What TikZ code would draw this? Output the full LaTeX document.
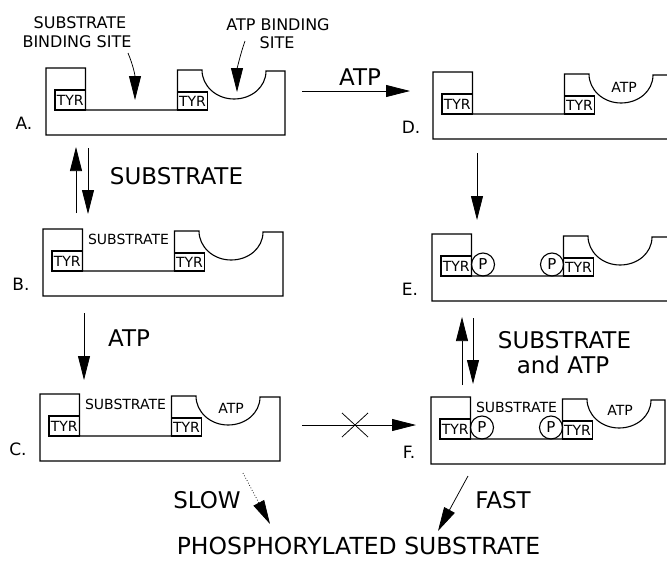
\documentclass[tikz,border=0pt]{standalone}
\usepackage{fontspec}
\setmainfont{DejaVu Sans}
\usetikzlibrary{arrows.meta}
\tikzset{
  blk/.style={line width=1.1pt, line join=miter},
  arr/.style={line width=0.75pt, -{Triangle[length=24pt,width=12pt]}},
  tyr/.style={inner sep=0pt, font=\fontsize{14}{14}\selectfont},
  sm/.style={inner sep=0pt, font=\fontsize{14}{14}\selectfont},
  top/.style={inner sep=0pt, font=\fontsize{16}{16}\selectfont},
  big/.style={inner sep=0pt, font=\fontsize{23}{23}\selectfont},
  prodstyle/.style={inner sep=0pt, font=\fontsize{23.5}{23.5}\selectfont},
  lbl/.style={inner sep=0pt, font=\fontsize{17}{17}\selectfont},
  atpin/.style={inner sep=0pt, font=\fontsize{14}{14}\selectfont},
  pc/.style={draw, circle, line width=1.1pt, minimum size=23pt, inner sep=0pt, font=\fontsize{15}{15}\selectfont},
}
\newcommand\enzblock[4]{%
  \begin{scope}[shift={(#1,#2)}]
    \coordinate (#4) at (0,0);
    \draw[blk] (0,0) -- (39.5,0) -- (39.5,42) -- (131.5,42) -- (131.5,2) -- (156,2)
      .. controls (156,18) and (170.3,31) .. (188,31)
      .. controls (205.7,31) and (220,19) .. (220,3) -- (#3,3) -- (#3,67) -- (0,67) -- cycle;
    \draw[blk] (9,22) rectangle (39.5,42);
    \node[tyr] (#4t1) at (24.25,32.5) {TYR};
    \draw[blk] (131.5,24) rectangle (161.5,42);
    \node[tyr] (#4t2) at (146.5,33.5) {TYR};
    \node[lbl] (#4lab) at (-22,55) {#4.};
  \end{scope}}
\begin{document}
\begin{tikzpicture}[x=1pt,y=-1pt]
\useasboundingbox (0,0) rectangle (667,560);
\clip (0,0) rectangle (667,560);
% blocks
\enzblock{46}{68}{239}{A}
\enzblock{43}{229}{240}{B}
\enzblock{40}{394}{240}{C}
\enzblock{433}{72}{245}{D}
\enzblock{432}{234}{245}{E}
\enzblock{431}{397}{234}{F}
% contents
\node[sm] (Bs) at ([shift={(85.5,10)}]B) {SUBSTRATE};
\node[sm] (Cs) at ([shift={(85.5,10)}]C) {SUBSTRATE};
\node[atpin] (Ca) at ([shift={(191,14)}]C) {ATP};
\node[atpin] (Da) at ([shift={(191,15)}]D) {ATP};
\node[pc] (Ep1) at ([shift={(51,30.5)}]E) {P};
\node[pc] (Ep2) at ([shift={(120,30.5)}]E) {P};
\node[sm] (Fs) at ([shift={(85.5,10)}]F) {SUBSTRATE};
\node[atpin] (Fa) at ([shift={(189,13)}]F) {ATP};
\node[pc] (Fp1) at ([shift={(51,30.5)}]F) {P};
\node[pc] (Fp2) at ([shift={(120,30.5)}]F) {P};
% top labels
\node[top] (sbs1) at (80,23) {SUBSTRATE};
\node[top] (sbs2) at (77,42) {BINDING SITE};
\node[top] (abs1) at (278,25) {ATP BINDING};
\node[top] (abs2) at (277,43) {SITE};
\coordinate (sbsa) at (128,53);
\coordinate (sbsb) at (135,100);
\coordinate (absa) at (245,41);
\coordinate (absb) at (237,92);
\draw[arr] (sbsa) .. controls (133,65) and (135,75) .. (sbsb);
\draw[arr] (absa) .. controls (240,55) and (237,70) .. (absb);
% A -> D
\coordinate (ad0) at (302,91);
\coordinate (ad1) at (410,91);
\draw[arr] (ad0) -- (ad1);
\node[big] (adl) at (360,77) {ATP};
% A <-> B
\coordinate (ab0) at (76,213);
\coordinate (ab1) at (76,147);
\coordinate (ab2) at (88,148);
\coordinate (ab3) at (88,214);
\draw[arr] (ab0) -- (ab1);
\draw[arr] (ab2) -- (ab3);
\node[big] (abl) at (176.5,176) {SUBSTRATE};
% B -> C
\coordinate (bc0) at (84,313);
\coordinate (bc1) at (84,380);
\draw[arr] (bc0) -- (bc1);
\node[big] (bcl) at (129,338) {ATP};
% D -> E
\coordinate (de0) at (477,153);
\coordinate (de1) at (477,220);
\draw[arr] (de0) -- (de1);
% E <-> F
\coordinate (ef0) at (462,385);
\coordinate (ef1) at (462,317);
\coordinate (ef2) at (473,318);
\coordinate (ef3) at (473,384);
\draw[arr] (ef0) -- (ef1);
\draw[arr] (ef2) -- (ef3);
\node[big] (efl1) at (564.5,340) {SUBSTRATE};
\node[big] (efl2) at (563,365) {and ATP};
% C -> F blocked
\coordinate (cf0) at (302,425);
\coordinate (cf1) at (416,425);
\coordinate (xm) at (355,425);
\draw[arr] (cf0) -- (cf1);
\draw[line width=0.75pt] ([shift={(-13,-12)}]xm) -- ([shift={(13,12)}]xm);
\draw[line width=0.75pt] ([shift={(-13,12)}]xm) -- ([shift={(13,-12)}]xm);
% products
\coordinate (sl0) at (243,473);
\coordinate (sl1) at (270,524);
\draw[arr, dotted] (sl0) -- (sl1);
\node[big] (slowlbl) at (207,500) {SLOW};
\coordinate (fa0) at (468,476);
\coordinate (fa1) at (438,531);
\draw[arr] (fa0) -- (fa1);
\node[big] (fastlbl) at (503,500) {FAST};
\node[prodstyle] (prod) at (358.5,546) {PHOSPHORYLATED SUBSTRATE};
\end{tikzpicture}
\end{document}
